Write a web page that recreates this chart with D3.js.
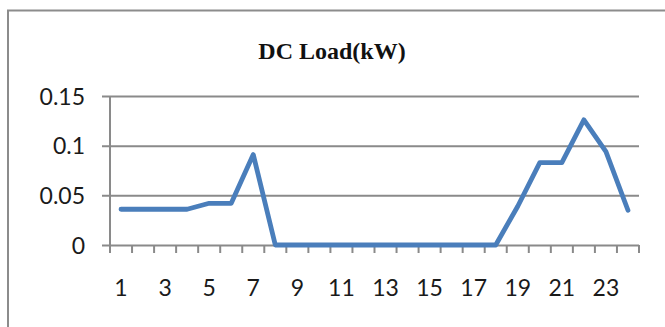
<!DOCTYPE html>
<html><head><meta charset="utf-8">
<script src="https://cdn.jsdelivr.net/npm/d3@7"></script>
<style>html,body{margin:0;padding:0;background:#fff;overflow:hidden}</style>
</head><body>
<script>
const title = "DC Load(kW)";
const hours = d3.range(1, 25);
const loadValues = [0.036,0.036,0.036,0.036,0.042,0.042,0.091,0,0,0,0,0,0,0,0,0,0,0,0.039,0.083,0.083,0.126,0.094,0.035];
const yTicks = [0, 0.05, 0.1, 0.15];
const yTickLabels = ["0", "0.05", "0.1", "0.15"];
const xTickLabels = hours.filter(h => h % 2 === 1);

const W = 665, H = 327;
const svg = d3.select("body").append("svg").attr("width", W).attr("height", H);

// outer chart border
svg.append("rect").attr("x", 8).attr("y", 10.5).attr("width", 700).attr("height", 400)
  .attr("fill", "none").attr("stroke", "#8c8c8c").attr("stroke-width", 2);

const plot = {left: 110, right: 639, top: 96, bottom: 245};
const x = d3.scaleBand().domain(hours).range([plot.left, plot.right]);
const y = d3.scaleLinear().domain([0, 0.15]).range([plot.bottom, plot.top]);

svg.append("text").attr("x", 332).attr("y", 59).attr("text-anchor", "middle")
  .attr("font-family", "Liberation Serif").attr("font-weight", "bold").attr("font-size", 24)
  .attr("fill", "#111").text(title);

const grid = "#8a8a8a";
// gridlines + y ticks
const yAxis = d3.axisLeft(y).tickValues(yTicks).tickSize(8).tickPadding(17)
  .tickFormat((d, i) => yTickLabels[i]);
const gy = svg.append("g").attr("transform", `translate(${plot.left},0)`).call(yAxis);
gy.select(".domain").remove();
gy.selectAll(".tick line").attr("x2", -8).attr("x1", plot.right - plot.left).attr("stroke", grid).attr("stroke-width", 2);
gy.selectAll(".tick text").attr("font-family", "Lato").attr("font-size", 23).attr("fill", "#1a1a1a").attr("dy", "0.36em");

// vertical axis line
svg.append("line").attr("x1", plot.left).attr("x2", plot.left).attr("y1", plot.top).attr("y2", plot.bottom + 8)
  .attr("stroke", grid).attr("stroke-width", 2);

// x ticks at band boundaries
const bounds = hours.map(h => x(h)).concat([plot.right]);
svg.append("g").selectAll("line").data(bounds).join("line")
  .attr("x1", d => d).attr("x2", d => d).attr("y1", plot.bottom).attr("y2", plot.bottom + 8)
  .attr("stroke", grid).attr("stroke-width", 2);

// x labels
svg.append("g").selectAll("text").data(xTickLabels).join("text")
  .attr("x", d => x(d) + x.bandwidth() / 2).attr("y", 296).attr("text-anchor", "middle")
  .attr("font-family", "Lato").attr("font-size", 23).attr("fill", "#1a1a1a").text(d => d);

// line
const line = d3.line().x((d, i) => x(hours[i]) + x.bandwidth() / 2).y(d => y(d));
svg.append("path").datum(loadValues).attr("d", line).attr("fill", "none")
  .attr("stroke", "#4a7ebb").attr("stroke-width", 4.8).attr("stroke-linejoin", "round").attr("stroke-linecap", "round");
</script>
</body></html>
